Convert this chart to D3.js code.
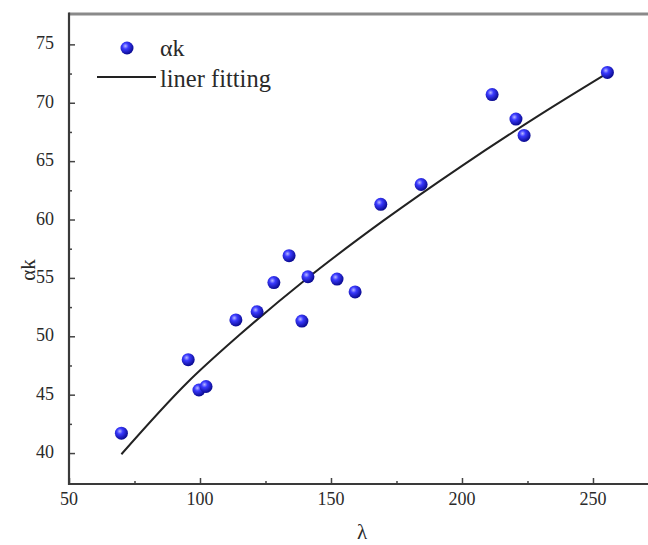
<!DOCTYPE html>
<html>
<head>
<meta charset="utf-8">
<script src="https://cdn.jsdelivr.net/npm/d3@7"></script>
<style>
    body { margin: 0; background: #fff; }
    text { font-family: "Liberation Serif", "Times New Roman", serif; fill: #2a2a2a; }
</style>
</head>
<body>
<div id="canvas"></div>
<script>
"use strict"

// DATA

let lambdaValues = [70, 95.5, 99.6, 102.3, 113.7, 121.8, 128.2, 134, 138.9, 141.2, 152.3, 159.2, 169, 184.4, 211.5, 220.6, 223.7, 255.5];
let akValues = [41.7, 48.0, 45.4, 45.7, 51.4, 52.1, 54.6, 56.9, 51.3, 55.1, 54.9, 53.8, 61.3, 63.0, 70.7, 68.6, 67.2, 72.6];

let fitLambda = [70, 95, 115, 140, 170, 200, 230, 256];
let fitAk = [39.9, 46.0, 50.1, 54.8, 59.9, 64.6, 69.0, 72.6];

let xTicks = [50, 100, 150, 200, 250];
let xMinorTicks = [75, 125, 175, 225];
let yTicks = [40, 45, 50, 55, 60, 65, 70, 75];
let yMinorTicks = [42.5, 47.5, 52.5, 57.5, 62.5, 67.5, 72.5];

let dataset = lambdaValues.map(function(d, i) { return { x: d, y: akValues[i] }; });
let fitLine = fitLambda.map(function(d, i) { return { x: d, y: fitAk[i] }; });


// CONFIGURATION

let svgWidth = 648;
let svgHeight = 545;
let plotLeft = 69;
let plotRight = 648;
let plotTop = 14;
let plotBottom = 484;


// CREATE SVG

let svg = d3.select("#canvas")
    .append("svg")
    .attr("width", svgWidth)
    .attr("height", svgHeight);

let defs = svg.append("defs");
let grad = defs.append("radialGradient")
    .attr("id", "ball")
    .attr("cx", "38%")
    .attr("cy", "35%")
    .attr("r", "65%");
grad.append("stop").attr("offset", "0%").attr("stop-color", "#b8b8ff");
grad.append("stop").attr("offset", "35%").attr("stop-color", "#3a3aff");
grad.append("stop").attr("offset", "100%").attr("stop-color", "#0a0a90");


// SCALES

let xScale = d3.scaleLinear()
    .domain([50, 271])
    .range([plotLeft, plotRight]);

let yScale = d3.scaleLinear()
    .domain([37.35, 77.6])
    .range([plotBottom, plotTop]);


// AXES (ticks pointing inward)

let xAxis = svg.append("g")
    .attr("transform", "translate(0," + plotBottom + ")")
    .call(d3.axisTop(xScale).tickValues(xTicks).tickSize(6).tickFormat(""));
xAxis.select(".domain").remove();

svg.append("g")
    .attr("transform", "translate(0," + plotBottom + ")")
    .call(d3.axisTop(xScale).tickValues(xMinorTicks).tickSize(3).tickFormat(""))
    .select(".domain").remove();

let yAxis = svg.append("g")
    .attr("transform", "translate(" + plotLeft + ",0)")
    .call(d3.axisRight(yScale).tickValues(yTicks).tickSize(6).tickFormat(""));
yAxis.select(".domain").remove();

svg.append("g")
    .attr("transform", "translate(" + plotLeft + ",0)")
    .call(d3.axisRight(yScale).tickValues(yMinorTicks).tickSize(3).tickFormat(""))
    .select(".domain").remove();

svg.selectAll(".tick line")
    .attr("stroke", "#444")
    .attr("stroke-width", 1.5);

// tick labels
svg.selectAll("text.xLabel")
    .data(xTicks)
    .join("text")
    .attr("class", "xLabel")
    .attr("x", function(d) { return xScale(d); })
    .attr("y", plotBottom + 21)
    .attr("text-anchor", "middle")
    .style("font-size", "18px")
    .text(function(d) { return d; });

svg.selectAll("text.yLabel")
    .data(yTicks)
    .join("text")
    .attr("class", "yLabel")
    .attr("x", plotLeft - 15)
    .attr("y", function(d) { return yScale(d) + 5; })
    .attr("text-anchor", "end")
    .style("font-size", "18px")
    .text(function(d) { return d; });


// FRAME

svg.append("line")
    .attr("x1", plotLeft).attr("x2", plotRight)
    .attr("y1", plotTop).attr("y2", plotTop)
    .attr("stroke", "#8a8a8a")
    .attr("stroke-width", 3);

svg.append("line")
    .attr("x1", plotLeft).attr("x2", plotLeft)
    .attr("y1", plotTop - 1.5).attr("y2", plotBottom + 1)
    .attr("stroke", "#3a3a3a")
    .attr("stroke-width", 2.2);

svg.append("line")
    .attr("x1", plotLeft - 1).attr("x2", plotRight)
    .attr("y1", plotBottom).attr("y2", plotBottom)
    .attr("stroke", "#3a3a3a")
    .attr("stroke-width", 2.2);


// FIT LINE

let line = d3.line()
    .x(function(d) { return xScale(d.x); })
    .y(function(d) { return yScale(d.y); })
    .curve(d3.curveMonotoneX);

svg.append("path")
    .datum(fitLine)
    .attr("d", line)
    .attr("fill", "none")
    .attr("stroke", "#222")
    .attr("stroke-width", 2);


// DATA POINTS

svg.selectAll("circle.dataPoint")
    .data(dataset)
    .join("circle")
    .attr("class", "dataPoint")
    .attr("cx", function(d) { return xScale(d.x); })
    .attr("cy", function(d) { return yScale(d.y); })
    .attr("r", 6.5)
    .attr("fill", "url(#ball)");


// AXIS TITLES

svg.append("text")
    .attr("transform", "rotate(-90)")
    .attr("x", -270)
    .attr("y", 35)
    .attr("text-anchor", "middle")
    .style("font-size", "21px")
    .text("αk");

svg.append("text")
    .attr("x", 362)
    .attr("y", 539)
    .attr("text-anchor", "middle")
    .style("font-size", "21px")
    .text("λ");


// LEGEND

svg.append("circle")
    .attr("cx", 127)
    .attr("cy", 48)
    .attr("r", 6.5)
    .attr("fill", "url(#ball)");

svg.append("text")
    .attr("x", 160)
    .attr("y", 56)
    .style("font-size", "24px")
    .text("αk");

svg.append("line")
    .attr("x1", 97).attr("x2", 156)
    .attr("y1", 77).attr("y2", 77)
    .attr("stroke", "#222")
    .attr("stroke-width", 2);

svg.append("text")
    .attr("x", 160)
    .attr("y", 87)
    .style("font-size", "24.5px")
    .text("liner fitting");
</script>
</body>
</html>
